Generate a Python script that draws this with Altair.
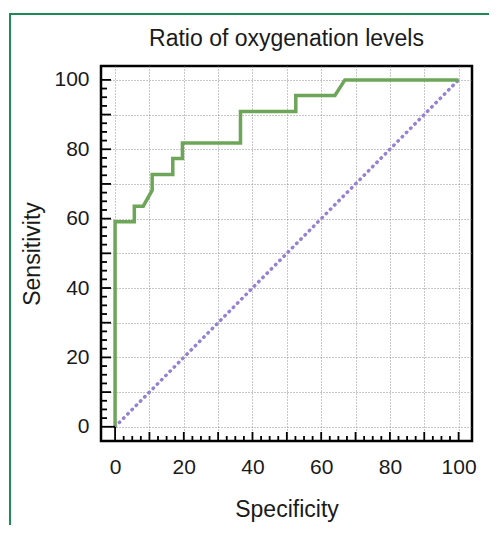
import altair as alt
import pandas as pd

title_text = "Ratio of oxygenation levels"
x_title = "Specificity"
y_title = "Sensitivity"

# ROC step curve
roc_x = [0, 0, 5.6, 5.6, 8.2, 10.8, 10.8, 16.8, 16.8, 19.6, 19.6, 36.5, 36.5, 52.6, 52.6, 64.0, 66.9, 100]
roc_y = [0, 59.1, 59.1, 63.6, 63.6, 68.2, 72.7, 72.7, 77.3, 77.3, 81.8, 81.8, 90.9, 90.9, 95.5, 95.5, 100, 100]
# reference diagonal
ref_x = [0, 100]
ref_y = [0, 100]

grid_values = [0, 10, 20, 30, 40, 50, 60, 70, 80, 90, 100]
label_values = [0, 20, 40, 60, 80, 100]
major_ticks = [10, 20, 30, 40, 50, 60, 70, 80, 90, 100]
minor_ticks = [2.5, 5, 7.5, 12.5, 15, 17.5, 22.5, 25, 27.5, 32.5, 35, 37.5,
               42.5, 45, 47.5, 52.5, 55, 57.5, 62.5, 65, 67.5, 72.5, 75, 77.5,
               82.5, 85, 87.5, 92.5, 95, 97.5]
zero_tick = [0]

W, H = 371, 375
FONT = "Liberation Sans"

xs = alt.Scale(domain=[-4.1, 103.9], nice=False, zero=False)
ys = alt.Scale(domain=[-4.1, 104.0], nice=False, zero=False)

xaxis = alt.Axis(values=grid_values, grid=True, ticks=False, domain=False,
                 labelExpr="datum.value % 20 == 0 ? datum.label : ''",
                 labelPadding=15, titlePadding=21, labelFontSize=21, titleFontSize=23,
                 labelFont=FONT, titleFont=FONT, labelColor="#1a1a1a", titleColor="#1a1a1a",
                 titleFontWeight="normal", gridColor="#777777", gridDash=[1, 2],
                 gridOpacity=0.8, gridWidth=1, labelFlush=False)
yaxis = alt.Axis(values=grid_values, grid=True, ticks=False, domain=False,
                 labelExpr="datum.value % 20 == 0 ? datum.label : ''",
                 labelPadding=12, titlePadding=9, labelFontSize=21, titleFontSize=23,
                 labelFont=FONT, titleFont=FONT, labelColor="#1a1a1a", titleColor="#1a1a1a",
                 titleFontWeight="normal", gridColor="#777777", gridDash=[1, 2],
                 gridOpacity=0.8, gridWidth=1, labelFlush=False)

XE = alt.X("x:Q", scale=xs, axis=xaxis, title=x_title)
YE = alt.Y("y:Q", scale=ys, axis=yaxis, title=y_title)

roc_df = pd.DataFrame({"x": roc_x, "y": roc_y, "o": list(range(len(roc_x)))})
ref_df = pd.DataFrame({"x": ref_x, "y": ref_y})

roc = alt.Chart(roc_df).mark_line(color="#6da659", strokeWidth=3.5, strokeJoin="miter").encode(
    x=XE, y=YE, order="o:Q")
ref = alt.Chart(ref_df).mark_line(color="#9582d0", strokeWidth=3.5, strokeDash=[0.5, 5.5],
                                  strokeCap="round").encode(x=XE, y=YE)

def xticks(vals, length, width=1.8):
    return alt.Chart(pd.DataFrame({"x": vals})).mark_rule(color="black", strokeWidth=width).encode(
        x=XE, y=alt.value(H), y2=alt.value(H - length))

def yticks(vals, length, width=1.8):
    return alt.Chart(pd.DataFrame({"y": vals})).mark_rule(color="black", strokeWidth=width).encode(
        y=YE, x=alt.value(0), x2=alt.value(length))

border = alt.Chart(pd.DataFrame({"k": [1]})).mark_rect(
    fillOpacity=0, stroke="#1f8a55", strokeWidth=2).encode(
    x=alt.value(-91), x2=alt.value(W + 60), y=alt.value(-52), y2=alt.value(H + 140))

chart = alt.layer(
    ref, roc,
    xticks(minor_ticks, 5), xticks(major_ticks, 9), xticks(zero_tick, 14),
    yticks(minor_ticks, 6), yticks(major_ticks, 10), yticks(zero_tick, 14),
    border,
).properties(
    width=W, height=H,
    title=alt.Title(title_text, fontSize=23, font=FONT, fontWeight="normal",
                    color="#1a1a1a", anchor="middle", offset=-38),
    autosize=alt.AutoSizeParams(type="none"),
    padding={"left": 93, "top": 58, "right": 17, "bottom": 84},
).configure_view(stroke="black", strokeWidth=2.5)

chart.save("out.html", embed_options={"renderer": "svg", "actions": False})
